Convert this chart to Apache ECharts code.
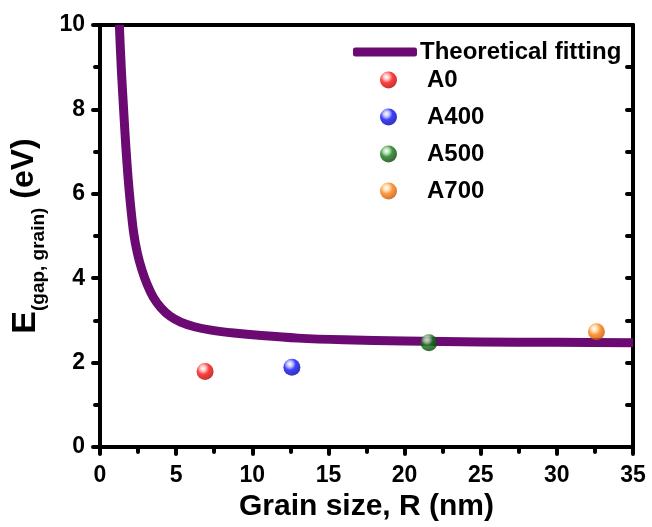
<!DOCTYPE html>
<html><head><meta charset="utf-8">
<script src="https://cdn.jsdelivr.net/npm/echarts@6/dist/echarts.min.js"></script>
<style>html,body{margin:0;padding:0;background:#fff}#c{width:652px;height:527px}</style>
</head><body><div id="c"></div>
<script>
// Theoretical fitting curve: [R (nm), E (eV)]
const fitCurve = [[1.27,10.0],[1.4,8.95],[1.55,8.0],[1.7,7.1],[1.85,6.35],[2.0,5.75],[2.2,5.1],[2.45,4.6],[2.75,4.2],[3.1,3.85],[3.5,3.55],[4.0,3.3],[4.6,3.1],[5.3,2.96],[6.2,2.85],[7.3,2.77],[8.8,2.7],[10.6,2.64],[13,2.58],[16,2.54],[20,2.51],[25,2.49],[30,2.48],[35,2.47]];
const sampleNames = ['A0','A400','A500','A700'];
const sampleR = [6.9, 12.6, 21.6, 32.6];
const sampleE = [1.79, 1.89, 2.47, 2.73];
const sampleColors = [['#ffb0b0','#ff1010','#b00000'],['#b0b0ff','#1010ff','#0000a0'],['#a0d8a0','#147814','#064006'],['#ffd8a0','#ff7f10','#c05000']];
const xTicks = [0,5,10,15,20,25,30,35];
const yTicks = [0,2,4,6,8,10];

const F = 'Liberation Sans, Arial, sans-serif';
function ball(c){return {type:'radial',x:0.38,y:0.32,r:0.7,colorStops:[{offset:0,color:'#ffffff'},{offset:0.25,color:c[0]},{offset:0.5,color:c[1]},{offset:1,color:c[2]}]};}

const series = [{
  name:'Theoretical fitting', type:'line', data:fitCurve, smooth:0.25,
  showSymbol:false, symbol:'none', lineStyle:{color:'#6a0a72', width:9, join:'round'}, itemStyle:{color:'#6a0a72'}, z:2
}];
sampleNames.forEach((n,i)=>{
  series.push({name:n, type:'scatter', data:[[sampleR[i], sampleE[i]]], symbolSize:17,
    itemStyle:{color:ball(sampleColors[i])}, z:5});
});

const chart = echarts.init(document.getElementById('c'));
chart.setOption({
  animation:false,
  backgroundColor:'#fff',
  grid:{left:100,right:19,top:25,bottom:78},
  legend:[{
    data:[{name:'Theoretical fitting', icon:'roundRect'}],
    left:348, top:35, itemWidth:64, itemHeight:9, itemGap:0,
    textStyle:{fontFamily:F,fontWeight:'bold',fontSize:24,color:'#000',padding:[0,0,0,-2],lineHeight:24}
  },{
    data:sampleNames.map(n=>({name:n, icon:'circle'})), orient:'vertical',
    left:375, top:63, itemWidth:17, itemHeight:17, itemGap:13,
    textStyle:{fontFamily:F,fontWeight:'bold',fontSize:24,color:'#000',padding:[0,0,0,25],lineHeight:24}
  }],
  xAxis:[{
    type:'value', min:0, max:35, interval:5, position:'bottom',
    name:'Grain size, R (nm)', nameLocation:'middle', nameGap:45,
    nameTextStyle:{fontFamily:F,fontWeight:'bold',fontSize:30,color:'#000'},
    axisLine:{show:true,onZero:false,lineStyle:{color:'#000',width:4}},
    axisTick:{show:true,inside:false,length:7,lineStyle:{color:'#000',width:4,cap:'round'}},
    minorTick:{show:true,splitNumber:2,length:5,lineStyle:{color:'#000',width:4,cap:'round'}},
    axisLabel:{fontFamily:F,fontWeight:'bold',fontSize:23,color:'#000',margin:17,
      formatter:v=>xTicks.includes(v)?String(v):''},
    splitLine:{show:false}
  },{
    type:'value', min:0, max:35, interval:5, position:'top',
    axisLine:{show:true,onZero:false,lineStyle:{color:'#000',width:4}},
    axisTick:{show:false}, axisLabel:{show:false}, splitLine:{show:false}
  }],
  yAxis:[{
    type:'value', min:0, max:10, interval:2, position:'left',
    name:'{e|E}{s|(gap, grain)}{u| (eV)}', nameLocation:'middle', nameGap:43, nameRotate:90,
    nameTextStyle:{fontFamily:F,fontWeight:'bold',color:'#000',
      rich:{e:{fontFamily:F,fontWeight:'bold',fontSize:34,color:'#000',verticalAlign:'top',lineHeight:40},
            s:{fontFamily:F,fontWeight:'bold',fontSize:19,color:'#000',verticalAlign:'bottom',lineHeight:22},
            u:{fontFamily:F,fontWeight:'bold',fontSize:32,color:'#000',verticalAlign:'top',lineHeight:40}}},
    axisLine:{show:true,onZero:false,lineStyle:{color:'#000',width:4}},
    axisTick:{show:true,inside:false,length:7,lineStyle:{color:'#000',width:4,cap:'round'}},
    minorTick:{show:true,splitNumber:2,length:5,lineStyle:{color:'#000',width:4,cap:'round'}},
    axisLabel:{fontFamily:F,fontWeight:'bold',fontSize:23,color:'#000',margin:15,
      formatter:v=>yTicks.includes(v)?String(v):''},
    splitLine:{show:false}
  },{
    type:'value', min:0, max:10, interval:1, position:'right',
    axisLine:{show:true,onZero:false,lineStyle:{color:'#000',width:4}},
    axisTick:{show:true,inside:true,length:6,lineStyle:{color:'#000',width:4,cap:'round'}},
    axisLabel:{show:false}, splitLine:{show:false}
  }],
  series:series
});
</script></body></html>
